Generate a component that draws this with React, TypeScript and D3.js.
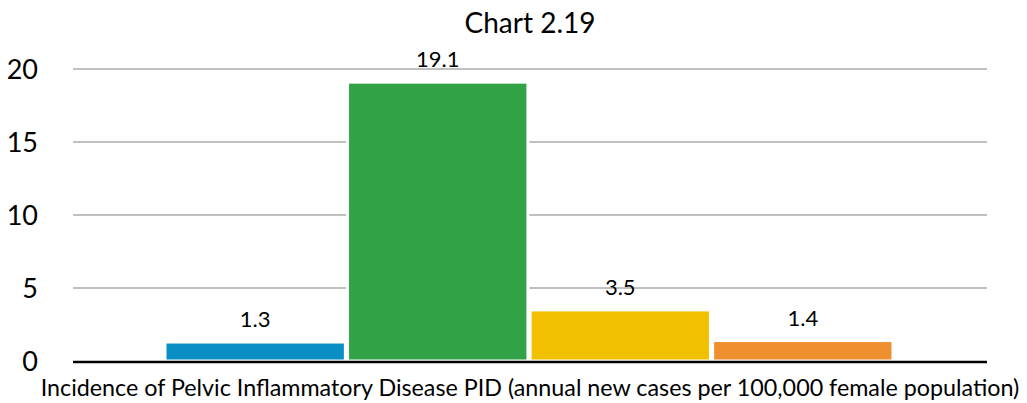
import React from "react";
import * as d3 from "d3";

const title = "Chart 2.19";
const xAxisTitle =
  "Incidence of Pelvic Inflammatory Disease PID (annual new cases per 100,000 female population)";
const seriesNames = ["Series A", "Series B", "Series C", "Series D"];
const seriesValues = [1.3, 19.1, 3.5, 1.4];
const seriesLabels = ["1.3", "19.1", "3.5", "1.4"];
const seriesColors = ["#0a8fc4", "#31a246", "#f1c100", "#f08f30"];
const yTicks = [0, 5, 10, 15, 20];

const W = 1027;
const H = 403;
const FONT = "Lato, 'Open Sans', sans-serif";

export default function App() {
  const plotLeft = 73;
  const plotRight = 987;
  const y = d3.scaleLinear().domain([0, 20]).range([361, 69]);
  const x = d3
    .scaleBand<string>()
    .domain(seriesNames)
    .range([165, 893])
    .paddingInner(0.012)
    .paddingOuter(0);

  return (
    <svg
      width={W}
      height={H}
      style={{ position: "absolute", left: 0, top: 0, background: "#fff" }}
      fontFamily={FONT}
    >
      <text x={530} y={33} textAnchor="middle" fontSize={28} fill="#000">
        {title}
      </text>
      {yTicks.map((t) => (
        <g key={t}>
          {t !== 0 && (
            <line
              x1={plotLeft}
              x2={plotRight}
              y1={y(t)}
              y2={y(t)}
              stroke="#c0c0c0"
              strokeWidth={2}
            />
          )}
          <text
            x={38}
            y={y(t)}
            dy="0.36em"
            textAnchor="end"
            fontSize={27}
            fill="#000"
          >
            {t}
          </text>
        </g>
      ))}
      {seriesNames.map((s, i) => (
        <rect
          key={s}
          x={x(s)}
          y={y(seriesValues[i])}
          width={x.bandwidth()}
          height={y(0) - y(seriesValues[i])}
          fill={seriesColors[i]}
          stroke="#fff"
          strokeWidth={3}
        />
      ))}
      <line
        x1={plotLeft}
        x2={plotRight}
        y1={y(0) + 1}
        y2={y(0) + 1}
        stroke="#000"
        strokeWidth={2.5}
      />
      {seriesNames.map((s, i) => (
        <text
          key={s}
          x={(x(s) as number) + x.bandwidth() / 2}
          y={y(seriesValues[i]) - 15}
          textAnchor="middle"
          fontSize={22}
          fill="#000"
        >
          {seriesLabels[i]}
        </text>
      ))}
      <text
        x={530}
        y={396}
        textAnchor="middle"
        fontSize={23.3}
        fill="#000"
      >
        {xAxisTitle}
      </text>
    </svg>
  );
}
